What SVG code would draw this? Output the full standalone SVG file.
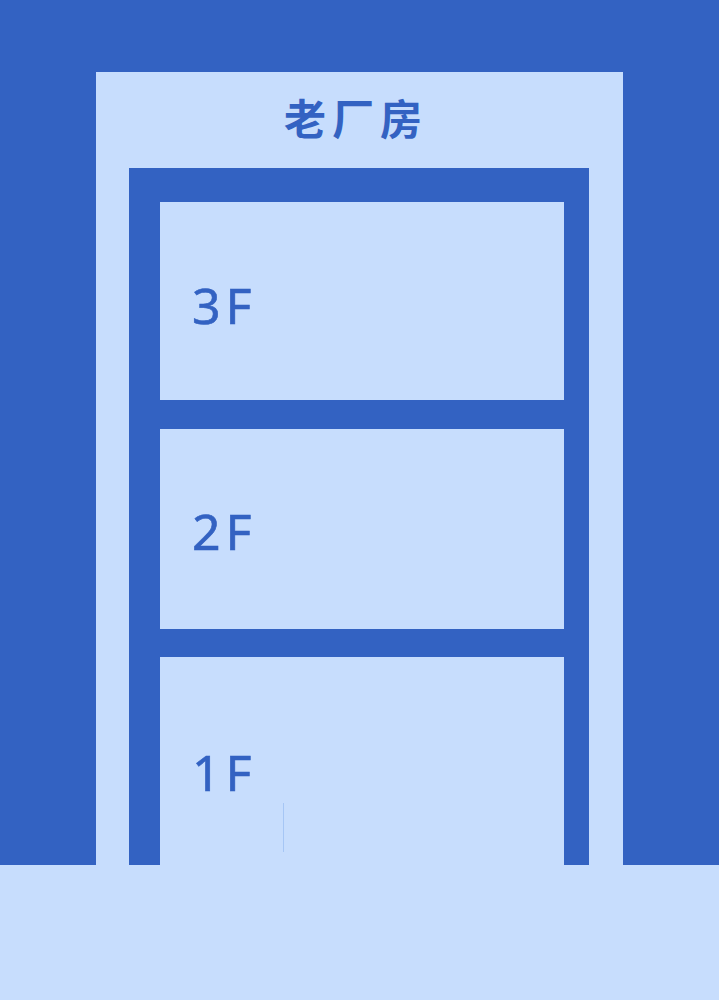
<svg xmlns="http://www.w3.org/2000/svg" width="719" height="1000" viewBox="0 0 719 1000">
<style>
.blue{fill:#3362C2}
.light{fill:#C7DDFD}
.lbl{font-family:"Noto Sans","Liberation Sans",sans-serif;font-size:50px;fill:#3362C2;letter-spacing:5px;stroke:#3362C2;stroke-width:0.6px}
.title{font-family:"Noto Sans CJK SC","Noto Sans",sans-serif;font-size:42px;font-weight:bold;fill:#3362C2;letter-spacing:6px}
</style>
<rect class="blue" x="0" y="0" width="719" height="1000"/>
<g id="building">
<rect class="light" x="96" y="72" width="527" height="793"/>
<rect class="blue" x="129" y="168" width="460" height="697"/>
</g>
<g id="title"><text class="title" x="356" y="135" text-anchor="middle">老厂房</text></g>
<g id="floor3"><rect class="light" x="160" y="202" width="404" height="198"/><text class="lbl" x="192" y="324">3F</text></g>
<g id="floor2"><rect class="light" x="160" y="429" width="404" height="200"/><text class="lbl" x="192" y="550">2F</text></g>
<g id="floor1"><rect class="light" x="160" y="657" width="404" height="208"/><text class="lbl" x="192" y="791">1F</text>
<line x1="283.5" y1="803" x2="283.5" y2="852" stroke="#A6C6F5" stroke-width="1"/></g>
<g id="ground"><rect class="light" x="0" y="865" width="719" height="135"/></g>
</svg>
